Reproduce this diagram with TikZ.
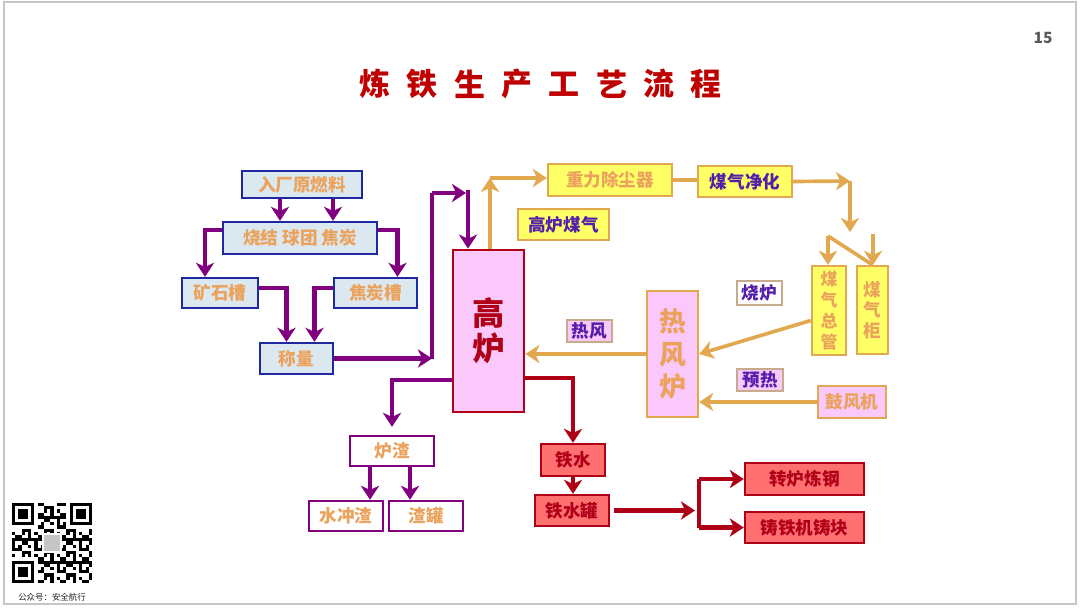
\documentclass[tikz,border=0pt]{standalone}
\usepackage{fontspec}
\usetikzlibrary{arrows.meta}
\newfontfamily\cjk{Noto Sans CJK SC}
\newcommand*{\px}{0.025cm}
\newcommand*{\qm}{3.2}
\newcommand*{\boxAt}[7]{% style, name, x, y, width, height, text
    \node[#1, minimum width=#5*\px, minimum height=#6*\px] (#2) at (#3,#4) {#7};
}
\definecolor{bluebd}{RGB}{30,40,160}
\definecolor{bluefill}{RGB}{220,232,240}
\definecolor{txtorange}{RGB}{234,162,92}
\definecolor{purp}{RGB}{128,0,128}
\definecolor{yelfill}{RGB}{255,255,102}
\definecolor{yelbd}{RGB}{226,168,80}
\definecolor{pinkfill}{RGB}{250,200,250}
\definecolor{darkred}{RGB}{176,0,24}
\definecolor{redfill}{RGB}{255,112,112}
\definecolor{lblpurp}{RGB}{84,30,170}
\definecolor{lblbd}{RGB}{200,170,140}
\definecolor{titlered}{RGB}{190,0,0}

\begin{document}
\begin{tikzpicture}[x=\px, y=-\px, font=\cjk\bfseries\fontsize{12.5}{14}\selectfont,
    box/.style={draw, line width=1.7pt, inner sep=0pt, align=center},
    bluebox/.style={box, draw=bluebd, fill=bluefill, text=txtorange},
    yelbox/.style={box, draw=yelbd, fill=yelfill, text=txtorange},
    pinkbox/.style={box, draw=yelbd, fill=pinkfill, text=txtorange},
    slagbox/.style={box, draw=purp, fill=white, text=txtorange},
    redbox/.style={box, draw=darkred, fill=redfill, text=darkred},
    lbl/.style={draw=lblbd, line width=1pt, inner sep=0pt, text=lblpurp},
    tip/.style={-{Stealth[length=10pt, width=13pt, inset=3pt]}},
    pline/.style={draw=purp, line width=3.2pt},
    parrow/.style={pline, tip},
    oline/.style={draw=yelbd, line width=2.6pt},
    oarrow/.style={oline, tip},
    rline/.style={draw=darkred, line width=3pt},
    rarrow/.style={rline, tip},
    title/.style={text=titlered, font=\cjk\bfseries\fontsize{22}{22}\selectfont}]
\useasboundingbox (0,0) rectangle (1080,608);
\draw[gray!45, line width=0.8pt] (4,2) rectangle (1076,604);

% title and page number
\foreach \c [count=\i from 0] in {炼,铁,生,产,工,艺,流,程}
    \node[title] (t\i) at (375+\i*47.3,84) {\c};
\node[text=gray!70!black, font=\cjk\bfseries\fontsize{11}{11}\selectfont] (page) at (1043,38) {15};

% raw materials
\boxAt{bluebox}{raw}{302}{184.5}{120}{27}{入厂原燃料}
\boxAt{bluebox}{sinter}{300}{238}{154}{32}{烧结 球团 焦炭}
\boxAt{bluebox}{ore}{220}{293}{76}{30}{矿石槽}
\boxAt{bluebox}{coke}{375.5}{293}{83}{30}{焦炭槽}
\boxAt{bluebox}{weigh}{296.5}{358.5}{73}{31}{称量}

% blast furnace
\boxAt{box, draw=darkred, line width=2pt, fill=pinkfill, text=darkred,
    font=\cjk\bfseries\fontsize{23}{25}\selectfont}{furnace}{488.5}{331}{71}{162}{高\\炉}

% gas line
\boxAt{yelbox}{dust}{610}{180}{124}{32}{重力除尘器}
\boxAt{yelbox, text=lblpurp}{clean}{745}{181.5}{94}{31}{煤气净化}
\boxAt{yelbox, text=lblpurp}{gasl}{563.5}{224.5}{91}{31}{高炉煤气}
\boxAt{yelbox, font=\cjk\bfseries\fontsize{12}{15}\selectfont}{main}{829}{310.5}{34}{89}{煤\\气\\总\\管}
\boxAt{yelbox, font=\cjk\bfseries\fontsize{12.5}{14.5}\selectfont}{holder}{872.5}{310}{31}{88}{煤\\气\\柜}

% hot stove
\boxAt{pinkbox, font=\cjk\bfseries\fontsize{19}{23}\selectfont}{stove}{672.5}{354}{51}{126}{热\\风\\炉}
\boxAt{pinkbox}{blower}{852}{402}{68}{32}{鼓风机}
\boxAt{lbl, fill=white}{burnl}{759.5}{293}{45}{24}{烧炉}
\boxAt{lbl, fill=pinkfill}{hotl}{589.5}{331}{45}{22}{热风}
\boxAt{lbl, fill=pinkfill}{prel}{760}{380}{46}{22}{预热}

% slag
\boxAt{slagbox}{slag}{392}{451}{84}{30}{炉渣}
\boxAt{slagbox}{water}{346}{516}{74}{30}{水冲渣}
\boxAt{slagbox}{pot}{426}{516}{74}{30}{渣罐}

% iron
\boxAt{redbox}{iron}{573}{460}{64}{32}{铁水}
\boxAt{redbox}{ladle}{572}{510.5}{74}{31}{铁水罐}
\boxAt{redbox}{conv}{804.5}{479}{119}{32}{转炉炼钢}
\boxAt{redbox}{cast}{804.5}{527.5}{119}{31}{铸铁机铸块}

% bend points
\coordinate (a1) at (280,0);
\coordinate (a2) at (333,0);
\coordinate (c3) at (432,193);
\coordinate (c4) at (466,193);
\coordinate (c5) at (468,190);
\coordinate (d1) at (370,0);
\coordinate (d2) at (410,0);
\coordinate (e1) at (490,178);
\coordinate (e2) at (850,181);
\coordinate (e3) at (850,232);
\coordinate (e4) at (828,236);
\coordinate (e5) at (873,234);
\coordinate (f1) at (695,0);
\coordinate (f2) at (699,0);

% material arrows
\draw[parrow] (raw.south -| a1) -- (sinter.north -| a1);
\draw[parrow] (raw.south -| a2) -- (sinter.north -| a2);
\draw[parrow] ([yshift=8*\px]sinter.west) -| ([xshift=-15*\px]ore.north);
\draw[parrow] ([yshift=8*\px]sinter.east) -| ([xshift=22*\px]coke.north);
\draw[parrow] ([yshift=5*\px]ore.east) -| ([xshift=-10*\px]weigh.north);
\draw[parrow] ([yshift=5*\px]coke.west) -| ([xshift=18*\px]weigh.north);
\draw[parrow] (weigh.east) -- (weigh.east -| c3);
\draw[pline] (weigh.east -| c3) -- (c3);
\draw[parrow] (c3) -- (c4);
\draw[parrow] (c5) -- (c5 |- furnace.north);

% gas arrows
\draw[oarrow] (furnace.north -| e1) -- (e1);
\draw[oarrow] (e1) -- (e1 -| dust.west);
\draw[oline] (dust.east) -- (dust.east -| clean.west);
\draw[oarrow] (clean.east) -- (e2);
\draw[oarrow] (e2) -- (e3);
\draw[oarrow] (e4) -- (e4 |- main.north);
\draw[oline] (e4) -- (holder.north);
\draw[oarrow] (e5) -- (e5 |- holder.north);
\draw[oarrow] ([yshift=-10*\px]main.west) -- (stove.east);
\draw[oarrow] (blower.west) -- (blower.west -| stove.east);
\draw[oarrow] (stove.west) -- (stove.west -| furnace.east);

% slag arrows
\draw[parrow] ([yshift=-49*\px]furnace.west) -| ([yshift=8*\px]slag.north);
\draw[parrow] (slag.south -| d1) -- (water.north -| d1);
\draw[parrow] (slag.south -| d2) -- (pot.north -| d2);

% iron arrows
\draw[rarrow] ([yshift=-47*\px]furnace.east) -| (iron.north);
\draw[rarrow] (iron.south) -- (iron.south |- ladle.north);
\draw[rarrow] ([xshift=4*\px]ladle.east) -- (ladle.east -| f1);
\draw[rline] (f2 |- conv.west) -- (f2 |- cast.west);
\draw[rarrow] (f2 |- conv.west) -- (conv.west);
\draw[rarrow] (f2 |- cast.west) -- (cast.west);

% qr code
\begin{scope}[shift={(12,503)}]
    \foreach \i in {0,...,24} \foreach \j in {0,...,24} {
        \pgfmathtruncatemacro\qv{mod(\i*\i*7+\j*\j*3+\i*\j*5+\i+2*\j,7)}
        \ifnum\qv<3 \fill[black] (\i*\qm,\j*\qm) rectangle ++(\qm,\qm); \fi
    }
    \foreach \fx/\fy in {0/0,18/0,0/18} {
        \fill[white] ({(\fx-1)*\qm},{(\fy-1)*\qm}) rectangle ++(9*\qm,9*\qm);
        \fill[black] (\fx*\qm,\fy*\qm) rectangle ++(7*\qm,7*\qm);
        \fill[white] ({(\fx+1)*\qm},{(\fy+1)*\qm}) rectangle ++(5*\qm,5*\qm);
        \fill[black] ({(\fx+2)*\qm},{(\fy+2)*\qm}) rectangle ++(3*\qm,3*\qm);
    }
    \fill[white] (9.5*\qm,9.5*\qm) rectangle ++(6*\qm,6*\qm);
    \fill[gray!45] (10*\qm,10*\qm) rectangle ++(5*\qm,5*\qm);
\end{scope}
\node[text=gray!25!black, font=\cjk\fontsize{6}{6}\selectfont] (qrcap) at (52,597) {公众号：安全航行};
\end{tikzpicture}
\end{document}
